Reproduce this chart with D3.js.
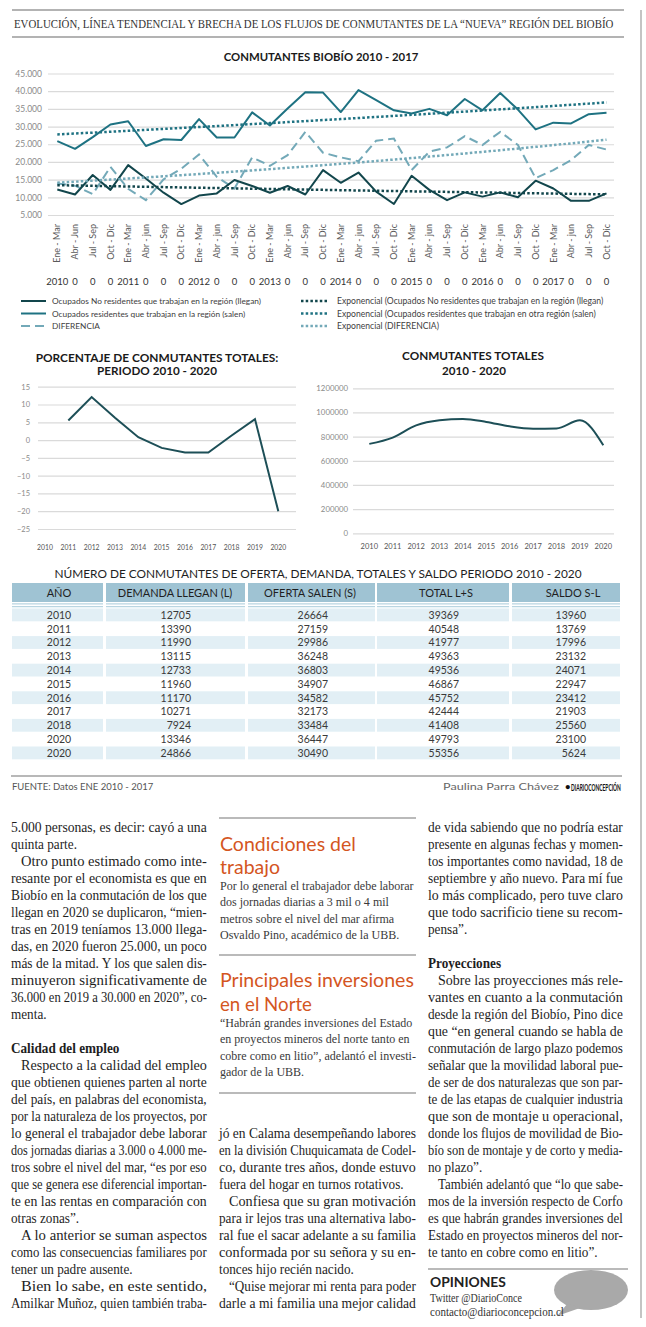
<!DOCTYPE html>
<html>
<head>
    <title>Conmutantes Biobío</title>
    <meta charset="utf-8" />
    <script src="https://cdn.jsdelivr.net/npm/d3@7"></script>
    <style>
        body { margin: 0; background: #fff; }
        svg text { font-family: Lato, "Noto Sans", sans-serif; }
        svg text.serif { font-family: "Liberation Serif", "DejaVu Serif", serif; }
    </style>
</head>
<body>
    <svg id="page" width="646" height="1327"></svg>
    <script>
        // ---- chart 1: trimestres 2010 - 2017
        var quarters = [];
        for (var yy = 0; yy < 8; yy++) {
            quarters.push('Ene - Mar', yy === 0 ? 'Abr - Jun' : 'Abr - jun', 'Jul - Sep', 'Oct - Dic');
        }
        var yearRow = ['2010','0','0','0','2011','0','0','0','2012','0','0','0','2013','0','0','0',
                       '2014','0','0','0','2015','0','0','0','2016','0','0','0','2017','0','0','0'];
        var llegan = [12200, 10800, 16300, 12100, 19100, 15300, 11300, 8100, 10500, 11100, 14900, 13200,
                      11300, 13200, 10800, 17700, 14100, 17000, 11600, 8100, 16100, 12100, 9200, 11400,
                      10200, 11400, 10000, 14700, 12500, 9000, 9000, 11100];
        var salen = [25900, 23700, 27000, 30600, 31500, 24500, 26400, 26200, 32100, 26900, 26900, 34000,
                     30300, 35100, 39700, 39600, 34100, 40300, 37500, 34600, 33700, 35000, 33200, 37800,
                     34600, 39500, 34800, 29200, 31100, 30900, 33500, 33900];
        var diferencia = [13900, 13300, 10900, 18600, 12400, 9200, 15100, 18100, 22100, 15800, 12500, 21300,
                          18900, 21900, 28500, 22600, 21300, 20200, 26000, 26600, 17700, 22900, 24100, 27300,
                          24800, 28500, 24800, 15400, 17700, 20500, 24800, 23500];
        var yTicks1 = [5000, 10000, 15000, 20000, 25000, 30000, 35000, 40000, 45000];
        var legendLeft = ['Ocupados No residentes que trabajan en la región (llegan)',
                          'Ocupados residentes que trabajan en la región (salen)',
                          'DIFERENCIA'];
        var legendRight = ['Exponencial (Ocupados No residentes que trabajan en la región (llegan)',
                           'Exponencial (Ocupados residentes que trabajan en otra región (salen)',
                           'Exponencial (DIFERENCIA)'];

        // ---- charts 2 and 3: 2010 - 2020
        var years = [2010, 2011, 2012, 2013, 2014, 2015, 2016, 2017, 2018, 2019, 2020];
        var porcentaje = [null, 5.5, 12.1, 6.3, 0.8, -2.2, -3.5, -3.5, 1.3, 5.9, -20.0];
        var totales = [740000, 792000, 893000, 935000, 946000, 922000, 885000, 866000, 868000, 935000, 728000];
        var yTicks2 = [-25, -20, -15, -10, -5, 0, 5, 10, 15];
        var yTicks3 = [0, 200000, 400000, 600000, 800000, 1000000, 1200000];

        // ---- table
        var tablaHeader = ['AÑO', 'DEMANDA LLEGAN (L)', 'OFERTA SALEN (S)', 'TOTAL L+S', 'SALDO S-L'];
        var tablaAnio = ['2010','2011','2012','2013','2014','2015','2016','2017','2018','2020','2020'];
        var demanda = [12705, 13390, 11990, 13115, 12733, 11960, 11170, 10271, 7924, 13346, 24866];
        var oferta = [26664, 27159, 29986, 36248, 36803, 34907, 34582, 32173, 33484, 36447, 30490];
        var totalLS = [39369, 40548, 41977, 49363, 49536, 46867, 45752, 42444, 41408, 49793, 55356];
        var saldo = [13960, 13769, 17996, 23132, 24071, 22947, 23412, 21903, 25560, 23100, 5624];

        // ---- article text: [slot, text, flags]  j = justify, i = indent, b = bold
        var colLeft = [
            [0, '5.000 personas, es decir: cayó a una', 'j'],
            [1, 'quinta parte.', ''],
            [2, 'Otro punto estimado como inte-', 'ji'],
            [3, 'resante por el economista es que en', 'j'],
            [4, 'Biobío en la conmutación de los que', 'j'],
            [5, 'llegan en 2020 se duplicaron, “mien-', 'j'],
            [6, 'tras en 2019 teníamos 13.000 llega-', 'j'],
            [7, 'das, en 2020 fueron 25.000, un poco', 'j'],
            [8, 'más de la mitad. Y los que salen dis-', 'j'],
            [9, 'minuyeron significativamente de', 'j'],
            [10, '36.000 en 2019 a 30.000 en 2020”, co-', 'j'],
            [11, 'menta.', ''],
            [13, 'Calidad del empleo', 'b'],
            [14, 'Respecto a la calidad del empleo', 'ji'],
            [15, 'que obtienen quienes parten al norte', 'j'],
            [16, 'del país, en palabras del economista,', 'j'],
            [17, 'por la naturaleza de los proyectos, por', 'j'],
            [18, 'lo general el trabajador debe laborar', 'j'],
            [19, 'dos jornadas diarias a 3.000 o 4.000 me-', 'j'],
            [20, 'tros sobre el nivel del mar, “es por eso', 'j'],
            [21, 'que se genera ese diferencial importan-', 'j'],
            [22, 'te en las rentas en comparación con', 'j'],
            [23, 'otras zonas”.', ''],
            [24, 'A lo anterior se suman aspectos', 'ji'],
            [25, 'como las consecuencias familiares por', 'j'],
            [26, 'tener un padre ausente.', ''],
            [27, 'Bien lo sabe, en este sentido,', 'ji'],
            [28, 'Amilkar Muñoz, quien también traba-', 'j']
        ];
        var colMid = [
            [18, 'jó en Calama desempeñando labores', 'j'],
            [19, 'en la división Chuquicamata de Codel-', 'j'],
            [20, 'co, durante tres años, donde estuvo', 'j'],
            [21, 'fuera del hogar en turnos rotativos.', ''],
            [22, 'Confiesa que su gran motivación', 'ji'],
            [23, 'para ir lejos tras una alternativa labo-', 'j'],
            [24, 'ral fue el sacar adelante a su familia', 'j'],
            [25, 'conformada por su señora y su en-', 'j'],
            [26, 'tonces hijo recién nacido.', ''],
            [27, '“Quise mejorar mi renta para poder', 'ji'],
            [28, 'darle a mi familia una mejor calidad', 'j']
        ];
        var colRight = [
            [0, 'de vida sabiendo que no podría estar', 'j'],
            [1, 'presente en algunas fechas y momen-', 'j'],
            [2, 'tos importantes como navidad, 18 de', 'j'],
            [3, 'septiembre y año nuevo. Para mí fue', 'j'],
            [4, 'lo más complicado, pero tuve claro', 'j'],
            [5, 'que todo sacrificio tiene su recom-', 'j'],
            [6, 'pensa”.', ''],
            [8, 'Proyecciones', 'b'],
            [9, 'Sobre las proyecciones más rele-', 'ji'],
            [10, 'vantes en cuanto a la conmutación', 'j'],
            [11, 'desde la región del Biobío, Pino dice', 'j'],
            [12, 'que “en general cuando se habla de', 'j'],
            [13, 'conmutación de largo plazo podemos', 'j'],
            [14, 'señalar que la movilidad laboral pue-', 'j'],
            [15, 'de ser de dos naturalezas que son par-', 'j'],
            [16, 'te de las etapas de cualquier industria', 'j'],
            [17, 'que son de montaje u operacional,', 'j'],
            [18, 'donde los flujos de movilidad de Bio-', 'j'],
            [19, 'bío son de montaje y de corto y media-', 'j'],
            [20, 'no plazo”.', ''],
            [21, 'También adelantó que “lo que sabe-', 'ji'],
            [22, 'mos de la inversión respecto de Corfo', 'j'],
            [23, 'es que habrán grandes inversiones del', 'j'],
            [24, 'Estado en proyectos mineros del nor-', 'j'],
            [25, 'te tanto en cobre como en litio”.', '']
        ];
        var box1Title = ['Condiciones del', 'trabajo'];
        var box1Text = ['Por lo general el trabajador debe laborar', 'dos jornadas diarias a 3 mil o 4 mil',
                        'metros sobre el nivel del mar afirma', 'Osvaldo Pino, académico de la UBB.'];
        var box2Title = ['Principales inversiones', 'en el Norte'];
        var box2Text = ['“Habrán grandes inversiones del Estado', 'en proyectos mineros del norte tanto en',
                        'cobre como en litio”, adelantó el investi-', 'gador de la UBB.'];

        var cLlegan = '#12464c', cSalen = '#1e7282', cDif = '#73a9b8';
        var grid = '#dadada';
        var svg = d3.select('#page');

        // squeeze a text horizontally to a given width (keeps its box honest)
        function fitText(sel, len) {
            var w = sel.node().getComputedTextLength();
            var x = +sel.attr('x') || 0, y = +sel.attr('y') || 0;
            sel.attr('x', null).attr('y', null)
                .attr('transform', 'translate(' + x + ',' + y + ') scale(' + (len / w) + ',1)');
            return sel;
        }

        // page frame and header
        svg.append('line').attr('x1', 12).attr('x2', 624).attr('y1', 10).attr('y2', 10)
            .attr('stroke', '#9a9a9a').attr('stroke-width', 1.3);
        svg.append('line').attr('x1', 12).attr('x2', 624).attr('y1', 37).attr('y2', 37)
            .attr('stroke', '#9a9a9a').attr('stroke-width', 1.3);
        svg.append('line').attr('x1', 641).attr('x2', 641).attr('y1', 10).attr('y2', 1318)
            .attr('stroke', '#c4c4c4').attr('stroke-width', 2);
        fitText(svg.append('text').attr('class', 'serif').attr('x', 14).attr('y', 28)
            .attr('font-size', 13.5).attr('fill', '#333')
            .text('EVOLUCIÓN, LÍNEA TENDENCIAL Y BRECHA DE LOS FLUJOS DE CONMUTANTES DE LA “NUEVA” REGIÓN DEL BIOBÍO'), 600);

        // ============ chart 1
        var fmtES = d3.formatLocale({decimal: ',', thousands: '.', grouping: [3], currency: ['$', '']}).format(',');
        var x1 = d3.scalePoint().domain(d3.range(quarters.length)).range([57.3, 606.5]);
        var y1 = d3.scaleLinear().domain([5000, 45000]).range([215, 73.5]);

        fitText(svg.append('text').attr('x', 321).attr('y', 61).attr('text-anchor', 'middle')
            .attr('font-size', 11).attr('font-weight', 700).attr('fill', '#1a1a1a')
            .text('CONMUTANTES BIOBÍO 2010 - 2017'), 195);

        var ax1 = svg.append('g').attr('transform', 'translate(48,0)')
            .call(d3.axisLeft(y1).tickValues(yTicks1).tickSize(-566).tickPadding(6).tickFormat(fmtES));
        ax1.select('.domain').remove();
        ax1.selectAll('line').attr('stroke', grid).attr('stroke-width', 1.2);
        ax1.selectAll('text').attr('fill', '#8a8a8a').attr('font-size', 8.5);

        var g1 = svg.append('g');
        g1.selectAll('.qlab').data(quarters).enter().append('text')
            .attr('transform', function(d, i) { return 'translate(' + x1(i) + ',224) rotate(-90)'; })
            .attr('text-anchor', 'end').attr('dy', '0.35em')
            .attr('font-size', 9).attr('fill', '#5a5a5a').text(function(d) { return d; });
        g1.selectAll('.ylab').data(yearRow).enter().append('text')
            .attr('x', function(d, i) { return x1(i); }).attr('y', 284.5)
            .attr('text-anchor', 'middle').attr('font-size', 9.5).attr('fill', '#333')
            .text(function(d) { return d; });

        // exponential trend (least squares on ln y), as Excel does
        function expTrend(arr) {
            var n = arr.length, sx = 0, sy = 0, sxx = 0, sxy = 0;
            arr.forEach(function(v, i) {
                var ly = Math.log(v);
                sx += i; sy += ly; sxx += i * i; sxy += i * ly;
            });
            var b = (n * sxy - sx * sy) / (n * sxx - sx * sx);
            var a = (sy - b * sx) / n;
            return arr.map(function(v, i) { return Math.exp(a + b * i); });
        }

        var line1 = d3.line().x(function(d, i) { return x1(i); }).y(function(d) { return y1(d); });
        g1.append('path').datum(diferencia).attr('d', line1).attr('fill', 'none')
            .attr('stroke', cDif).attr('stroke-width', 2).attr('stroke-dasharray', '9,5');
        g1.append('path').datum(llegan).attr('d', line1).attr('fill', 'none')
            .attr('stroke', cLlegan).attr('stroke-width', 2).attr('stroke-linejoin', 'round');
        g1.append('path').datum(salen).attr('d', line1).attr('fill', 'none')
            .attr('stroke', cSalen).attr('stroke-width', 2).attr('stroke-linejoin', 'round');
        [[llegan, cLlegan], [salen, cSalen], [diferencia, cDif]].forEach(function(s) {
            g1.append('path').datum(expTrend(s[0])).attr('d', line1).attr('fill', 'none')
                .attr('stroke', s[1]).attr('stroke-width', 2.5).attr('stroke-dasharray', '2.5,2.2');
        });

        // legend
        var legY = [301, 313.5, 326];
        var legStyle = [[cLlegan, null], [cSalen, null], [cDif, '9,5']];
        legendLeft.forEach(function(t, i) {
            svg.append('line').attr('x1', 21).attr('x2', 46).attr('y1', legY[i]).attr('y2', legY[i])
                .attr('stroke', legStyle[i][0]).attr('stroke-width', 2)
                .attr('stroke-dasharray', legStyle[i][1]);
            svg.append('text').attr('x', 52).attr('y', legY[i] + 3).attr('font-size', 8.3)
                .attr('fill', '#404040').text(t);
        });
        legendRight.forEach(function(t, i) {
            svg.append('line').attr('x1', 301).attr('x2', 328).attr('y1', legY[i]).attr('y2', legY[i])
                .attr('stroke', legStyle[i][0]).attr('stroke-width', 2.5)
                .attr('stroke-dasharray', '2.5,2.2');
            svg.append('text').attr('x', 337).attr('y', legY[i] + 3).attr('font-size', 8.6)
                .attr('fill', '#404040').text(t);
        });

        // ============ chart 2
        var x2 = d3.scalePoint().domain(years).range([45, 278.3]);
        var y2 = d3.scaleLinear().domain([-25, 15]).range([529, 386.7]);
        fitText(svg.append('text').attr('x', 157).attr('y', 362).attr('text-anchor', 'middle')
            .attr('font-size', 11).attr('font-weight', 700).attr('fill', '#1a1a1a')
            .text('PORCENTAJE DE CONMUTANTES TOTALES:'), 243);
        fitText(svg.append('text').attr('x', 157).attr('y', 374.5).attr('text-anchor', 'middle')
            .attr('font-size', 11).attr('font-weight', 700).attr('fill', '#1a1a1a')
            .text('PERIODO 2010 - 2020'), 120);
        var ax2 = svg.append('g').attr('transform', 'translate(38,0)')
            .call(d3.axisLeft(y2).tickValues(yTicks2).tickSize(-258).tickPadding(8));
        ax2.select('.domain').remove();
        ax2.selectAll('line').attr('stroke', grid).attr('stroke-width', 1.2);
        ax2.selectAll('text').attr('fill', '#8a8a8a').attr('font-size', 7.5);
        svg.append('g').selectAll('text').data(years).enter().append('text')
            .attr('x', function(d) { return x2(d); }).attr('y', 549.5).attr('text-anchor', 'middle')
            .attr('font-size', 6.8).attr('fill', '#555').text(function(d) { return d; });
        svg.append('path').datum(porcentaje)
            .attr('d', d3.line().defined(function(d) { return d !== null; })
                .x(function(d, i) { return x2(years[i]); }).y(function(d) { return y2(d); }))
            .attr('fill', 'none').attr('stroke', '#1d4f57').attr('stroke-width', 2);

        // ============ chart 3
        var x3 = d3.scalePoint().domain(years).range([369.3, 603.3]);
        var y3 = d3.scaleLinear().domain([0, 1200000]).range([533.3, 388.3]);
        fitText(svg.append('text').attr('x', 473).attr('y', 360).attr('text-anchor', 'middle')
            .attr('font-size', 11).attr('font-weight', 700).attr('fill', '#1a1a1a')
            .text('CONMUTANTES TOTALES'), 142);
        fitText(svg.append('text').attr('x', 474).attr('y', 374.5).attr('text-anchor', 'middle')
            .attr('font-size', 11).attr('font-weight', 700).attr('fill', '#1a1a1a')
            .text('2010 - 2020'), 64);
        var ax3 = svg.append('g').attr('transform', 'translate(353,0)')
            .call(d3.axisLeft(y3).tickValues(yTicks3).tickSize(-261).tickPadding(5).tickFormat(d3.format('d')));
        ax3.select('.domain').remove();
        ax3.selectAll('line').attr('stroke', grid).attr('stroke-width', 1.2);
        ax3.selectAll('text').attr('fill', '#8a8a8a').attr('font-size', 7.8);
        svg.append('g').selectAll('text').data(years).enter().append('text')
            .attr('x', function(d) { return x3(d); }).attr('y', 549).attr('text-anchor', 'middle')
            .attr('font-size', 7.5).attr('fill', '#555').text(function(d) { return d; });
        svg.append('path').datum(totales)
            .attr('d', d3.line().curve(d3.curveMonotoneX)
                .x(function(d, i) { return x3(years[i]); }).y(function(d) { return y3(d); }))
            .attr('fill', 'none').attr('stroke', '#1d4f57').attr('stroke-width', 2);

        // ============ table
        fitText(svg.append('text').attr('x', 318).attr('y', 577.5).attr('text-anchor', 'middle')
            .attr('font-size', 11.5).attr('fill', '#1f1f1f')
            .text('NÚMERO DE CONMUTANTES DE OFERTA, DEMANDA, TOTALES Y SALDO PERIODO 2010 - 2020'), 528);
        var cols = [[12, 103], [106, 245], [248, 375], [377, 509], [512, 620]];
        var headX = [59, 175, 310, 446, 573];
        var cellX = [59, 191, 328, 459, 586];
        svg.append('g').selectAll('rect').data(cols).enter().append('rect')
            .attr('x', function(d) { return d[0]; }).attr('width', function(d) { return d[1] - d[0]; })
            .attr('y', 583).attr('height', 19).attr('fill', '#9fc3d3');
        cols.forEach(function(c) {
            [603.8, 606.6].forEach(function(yy) {
                svg.append('line').attr('x1', c[0]).attr('x2', c[1]).attr('y1', yy).attr('y2', yy)
                    .attr('stroke', '#b9d5e1').attr('stroke-width', 1.2);
            });
        });
        tablaHeader.forEach(function(h, i) {
            svg.append('text').attr('x', headX[i]).attr('y', 596.5).attr('text-anchor', 'middle')
                .attr('font-size', 11).attr('fill', '#1f1f1f').text(h);
        });
        var rowH = 13.8, row0 = 608.5;
        var yRow = d3.scaleLinear().domain([0, 1]).range([row0, row0 + rowH]);
        tablaAnio.forEach(function(a, r) {
            if (r % 2 === 0) {
                cols.forEach(function(c) {
                    svg.append('rect').attr('x', c[0]).attr('width', c[1] - c[0])
                        .attr('y', yRow(r)).attr('height', rowH - 1).attr('fill', '#e2eff5');
                });
            }
            var vals = [a, demanda[r], oferta[r], totalLS[r], saldo[r]];
            vals.forEach(function(v, k) {
                svg.append('text').attr('x', cellX[k]).attr('y', yRow(r) + 10.3)
                    .attr('text-anchor', k === 0 ? 'middle' : 'end')
                    .attr('font-size', 10.5).attr('fill', '#3a3a3a').text(v);
            });
        });

        // footer of the graphic
        svg.append('line').attr('x1', 11).attr('x2', 622).attr('y1', 776).attr('y2', 776)
            .attr('stroke', '#a0a0a0').attr('stroke-width', 1.3);
        svg.append('text').attr('x', 12).attr('y', 790).attr('font-size', 9.5).attr('fill', '#555')
            .text('FUENTE: Datos ENE 2010 - 2017');
        fitText(svg.append('text').attr('x', 443).attr('y', 790).attr('font-size', 9.5).attr('fill', '#666')
            .text('Paulina Parra Chávez'), 116);
        svg.append('text').attr('x', 565).attr('y', 790).attr('font-size', 9.5).attr('font-weight', 700)
            .attr('fill', '#111').text('•');
        fitText(svg.append('text').attr('x', 571).attr('y', 790.5).attr('font-size', 10).attr('font-weight', 700)
            .attr('fill', '#111').text('DIARIOCONCEPCIÓN'), 50);

        // ============ article
        var lineH = 17, base0 = 831.5, sx = 0.91;
        function drawColumn(lines, x0, w) {
            lines.forEach(function(l) {
                var ind = l[2].indexOf('i') >= 0 ? 10 : 0;
                var t = svg.append('text').attr('class', 'serif')
                    .attr('x', x0 + ind).attr('y', base0 + lineH * l[0])
                    .attr('font-size', 14.5).attr('fill', '#1e1e1e')
                    .attr('font-weight', l[2].indexOf('b') >= 0 ? 700 : 400)
                    .text(l[1]);
                var nat = t.node().getComputedTextLength();
                fitText(t, l[2].indexOf('j') >= 0 ? w - ind : nat * sx);
            });
        }
        drawColumn(colLeft, 11, 196);
        drawColumn(colMid, 219, 197);
        drawColumn(colRight, 428, 195);

        // side boxes in the middle column
        function drawBox(ruleY, titles, titleY, titleW, body, bodyY) {
            svg.append('line').attr('x1', 219).attr('x2', 416).attr('y1', ruleY).attr('y2', ruleY)
                .attr('stroke', '#a3a3a3').attr('stroke-width', 1.5);
            titles.forEach(function(t, i) {
                fitText(svg.append('text').attr('x', 220).attr('y', titleY[i])
                    .attr('font-family', 'Roboto, sans-serif').attr('font-size', 20)
                    .attr('fill', '#d4561f').text(t), titleW[i]);
            });
            body.forEach(function(t, i) {
                var el = svg.append('text').attr('class', 'serif').attr('x', 220).attr('y', bodyY + 16.3 * i)
                    .attr('font-size', 13).attr('fill', '#3a3a3a').text(t);
                fitText(el, el.node().getComputedTextLength() * 0.925);
            });
        }
        drawBox(818, box1Title, [850.5, 874], [136, 60], box1Text, 890);
        drawBox(955, box2Title, [986.5, 1010.5], [194, 92], box2Text, 1027);
        svg.append('line').attr('x1', 219).attr('x2', 416).attr('y1', 1093).attr('y2', 1093)
            .attr('stroke', '#a3a3a3').attr('stroke-width', 1.5);

        // opiniones box
        svg.append('line').attr('x1', 428).attr('x2', 628).attr('y1', 1269).attr('y2', 1269)
            .attr('stroke', '#a3a3a3').attr('stroke-width', 1.5);
        svg.append('ellipse').attr('cx', 591).attr('cy', 1290).attr('rx', 37).attr('ry', 20).attr('fill', '#a9a9a9');
        svg.append('path').attr('d', 'M568,1303 L557,1316 L580,1308 Z').attr('fill', '#a9a9a9');
        fitText(svg.append('text').attr('x', 430).attr('y', 1287).attr('font-family', '"Open Sans", sans-serif')
            .attr('font-size', 13).attr('font-weight', 700).attr('fill', '#222').text('OPINIONES'), 76);
        fitText(svg.append('text').attr('class', 'serif').attr('x', 430).attr('y', 1301.5)
            .attr('font-size', 12.5).attr('fill', '#333').text('Twitter @DiarioConce'), 92);
        fitText(svg.append('text').attr('class', 'serif').attr('x', 430).attr('y', 1315.5)
            .attr('font-size', 12.5).attr('fill', '#333').text('contacto@diarioconcepcion.cl'), 134);
    </script>
</body>
</html>
